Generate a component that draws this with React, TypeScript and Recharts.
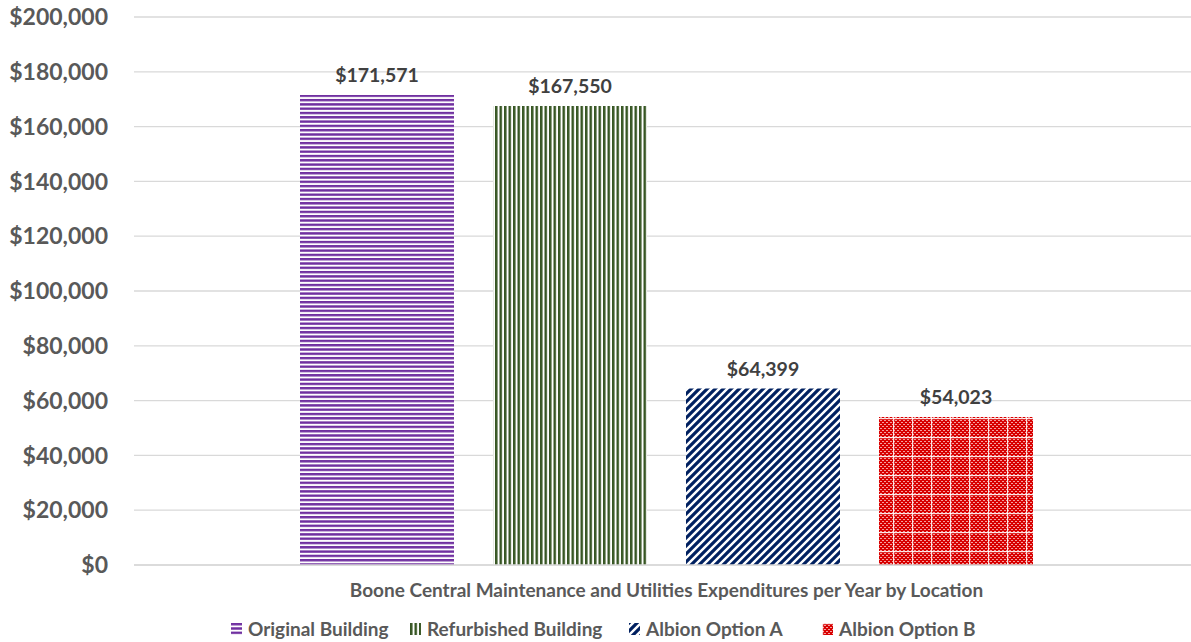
import React from 'react';
import { BarChart, Bar, XAxis, YAxis, CartesianGrid, Legend, LabelList } from 'recharts';

const categories = ['Boone Central Maintenance and Utilities Expenditures per Year by Location'];
const seriesNames = ['Original Building', 'Refurbished Building', 'Albion Option A', 'Albion Option B'];
const originalBuilding = [171571];
const refurbishedBuilding = [167550];
const albionOptionA = [64399];
const albionOptionB = [54023];
const yTicks = [0, 20000, 40000, 60000, 80000, 100000, 120000, 140000, 160000, 180000, 200000];

const data = categories.map((name, i) => ({
  name,
  s0: originalBuilding[i],
  s1: refurbishedBuilding[i],
  s2: albionOptionA[i],
  s3: albionOptionB[i],
}));

const patternIds = ['pat-horiz', 'pat-vert', 'pat-diag', 'pat-grid'];
// legend item slots, to spread the entries the way the original does
const legendWidths = [179, 219, 193, 175];
const FONT = 'Lato, "DejaVu Sans", sans-serif';
const money = (v: number) => '$' + v.toLocaleString('en-US');

const Patterns = () => (
  <defs>
    <pattern id="pat-horiz" patternUnits="userSpaceOnUse" width="8" height="4.3">
      <rect width="8" height="4.3" fill="#fff" />
      <rect width="8" height="2.4" fill="#7030A0" />
    </pattern>
    <pattern id="pat-vert" patternUnits="userSpaceOnUse" width="4.5" height="8">
      <rect width="4.5" height="8" fill="#fff" />
      <rect width="2.5" height="8" fill="#375623" />
    </pattern>
    <pattern id="pat-diag" patternUnits="userSpaceOnUse" width="8" height="8">
      <rect width="8" height="8" fill="#fff" />
      <path d="M-2,2 l4,-4 M0,8 l8,-8 M6,10 l4,-4" stroke="#002060" strokeWidth="3.2" />
    </pattern>
    <pattern id="pat-dots" patternUnits="userSpaceOnUse" width="4" height="4">
      <rect width="4" height="4" fill="#D80000" />
      <rect x="0" y="0" width="2" height="1" fill="#F4A0A0" />
      <rect x="2" y="2" width="2" height="1" fill="#F4A0A0" />
    </pattern>
    <pattern id="pat-grid" patternUnits="userSpaceOnUse" width="19" height="19">
      <rect width="19" height="19" fill="url(#pat-dots)" />
      <rect width="19" height="1.2" fill="#fff" opacity="0.85" />
      <rect width="1.2" height="19" fill="#fff" opacity="0.85" />
    </pattern>
  </defs>
);

const LegendContent = () => (
  <div style={{ display: 'flex', justifyContent: 'flex-start', paddingLeft: 231, fontFamily: FONT, fontWeight: 700, fontSize: 19, color: '#595959', lineHeight: '26px' }}>
    {seriesNames.map((n, i) => (
      <div key={n} style={{ display: 'flex', alignItems: 'center', gap: 6, width: legendWidths[i] }}>
        <svg width={11} height={12}>
          <rect width={11} height={12} fill={`url(#${patternIds[i]})`} />
        </svg>
        <span>{n}</span>
      </div>
    ))}
  </div>
);

export default function App() {
  return (
    <div style={{ position: 'fixed', left: 0, top: 0, width: 1191, height: 642, background: '#fff' }}>
      <BarChart
        width={1191}
        height={642}
        data={data}
        margin={{ top: 17, right: 0, left: 0, bottom: 0 }}
        barSize={154}
        barGap={39}
      >
        <Patterns />
        <CartesianGrid vertical={false} stroke="#D9D9D9" strokeWidth={1.3} />
        <XAxis
          dataKey="name"
          height={51}
          padding={{ left: 8, right: 0 }}
          axisLine={{ stroke: '#D9D9D9', strokeWidth: 1.3 }}
          tickLine={false}
          tickSize={0}
          tickMargin={19}
          tick={{ fontFamily: FONT, fontWeight: 700, fontSize: 19, fill: '#595959' }}
        />
        <YAxis
          width={134}
          domain={[0, 200000]}
          ticks={yTicks}
          axisLine={false}
          tickLine={false}
          tickSize={0}
          tickMargin={26}
          tickFormatter={money}
          tick={{ fontFamily: FONT, fontWeight: 700, fontSize: 23, fill: '#595959' }}
        />
        <Legend verticalAlign="bottom" height={26} content={<LegendContent />} />
        {['s0', 's1', 's2', 's3'].map((k, i) => (
          <Bar key={k} dataKey={k} name={seriesNames[i]} fill={`url(#${patternIds[i]})`} isAnimationActive={false}>
            <LabelList
              dataKey={k}
              position="top"
              offset={13}
              formatter={(v: any) => money(Number(v))}
              style={{ fontFamily: FONT, fontWeight: 700, fontSize: 19.5, fill: '#404040' }}
            />
          </Bar>
        ))}
      </BarChart>
    </div>
  );
}
